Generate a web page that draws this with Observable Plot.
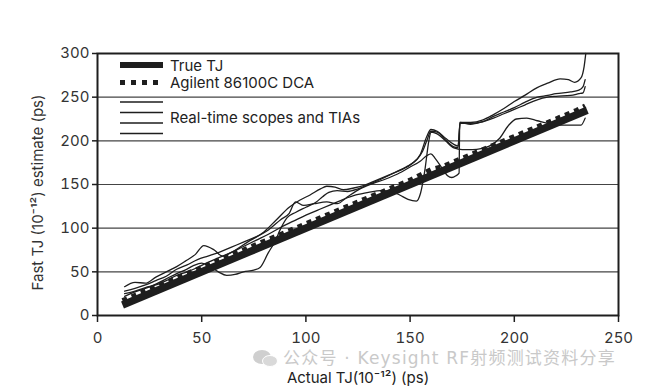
<!DOCTYPE html>
<html>
<head>
<meta charset="utf-8">
<script src="https://cdn.jsdelivr.net/npm/d3@7"></script>
<script src="https://cdn.jsdelivr.net/npm/@observablehq/plot@0.6"></script>
<style>
  html, body { margin: 0; padding: 0; background: #fff; }
  #wrap { position: relative; width: 645px; height: 386px; overflow: hidden; font-family: Inter, "Noto Sans", sans-serif; }
  #legend { position: absolute; left: 0; top: 0; pointer-events: none; }
  #wm { position: absolute; left: 252px; top: 349px; height: 18px; line-height: 18px; color: #c9c9c9; font-family: "DejaVu Sans", "Noto Sans CJK SC", sans-serif; font-size: 17px; letter-spacing: 1.2px; white-space: nowrap; display: flex; align-items: center; gap: 5px; }
</style>
</head>
<body>
<div id="wrap"></div>
<script>
// ---- data ----
const xTicks = [0, 50, 100, 150, 200, 250];
const yTicks = [0, 50, 100, 150, 200, 250, 300];
const gridValues = [50, 100, 150, 200, 250];

const trueTJ = [[12, 12], [235, 235]];

const dca = [[12,17],[20,25],[30,35],[40,45],[50,55],[60,65],[70,75],[80,85],[90,95],[100,105],[110,115],[120,125],[130,135],[140,145],[150,155],[155,161],[160,167],[165,170],[170,175],[175,180],[180,185],[190,195],[200,205],[210,215],[220,225],[230,235],[234,240]];

const scopeA = [[13,33],[18,38],[23,37],[28,44],[33,50],[38,56],[42,62],[47,70],[51,80],[56,75],[60,68],[64,72],[72,84],[80,96],[86,110],[92,124],[97,132],[102,138],[107,145],[110,148],[114,147],[118,144],[123,146],[128,149],[134,155],[140,161],[146,167],[151,174],[155,185],[158,205],[160,213],[163,211],[167,203],[171,196],[173,194],[174,221],[179,221],[185,224],[190,230],[195,237],[200,245],[205,252],[211,261],[216,266],[222,271],[226,270],[229,267],[232,272],[233.5,285],[234.3,300]];

const scopeB = [[13,28],[18,31],[23,35],[28,40],[33,45],[38,53],[43,58],[48,64],[53,68],[58,72],[64,78],[70,84],[76,90],[82,98],[88,110],[92,117],[95,130],[99,126],[104,128],[110,130],[115,128],[120,136],[126,145],[132,151],[138,156],[144,162],[150,170],[155,177],[158,183],[160,185],[162,180],[165,170],[168,160],[170,158],[172,160],[173.5,163],[173.8,221],[179,219],[185,222],[190,226],[195,231],[200,236],[205,241],[211,247],[216,250],[220,251],[227,252],[231,254],[233,255],[234,262]];

const scopeC = [[13,22],[18,27],[23,31],[28,36],[33,42],[38,48],[42,52],[46,57],[50,60],[54,56],[58,50],[62,46],[66,47],[70,50],[75,52],[78,55],[82,72],[85,84],[88,100],[91,112],[95,118],[100,124],[105,130],[108,136],[111,141],[115,143],[120,142],[125,145],[130,150],[136,156],[142,163],[148,170],[153,178],[156,188],[158,200],[160,211],[163,210],[167,201],[171,193],[173,192],[174,220],[179,220],[185,222],[190,228],[195,233],[200,238],[205,244],[211,250],[216,252],[220,254],[227,256],[231,258],[233,262],[234,270]];

const scopeD = [[13,25],[18,28],[23,32],[28,35],[33,40],[38,46],[43,50],[48,55],[53,61],[58,66],[64,72],[70,79],[76,86],[82,93],[88,101],[94,108],[100,115],[106,121],[112,127],[118,133],[124,138],[130,141],[136,143],[141,142],[145,138],[149,133],[153,131],[155,140],[157,165],[159,200],[160,210],[163,208],[167,200],[171,192],[175,190],[180,190],[184,191],[188,194],[193,203],[197,217],[201,225],[206,226],[211,223],[216,220],[221,218],[227,218],[232,218],[234,226]];

const xLabel = "Actual TJ(10⁻¹²) (ps)";
const yLabel = "Fast TJ (10⁻¹²) estimate (ps)";
const legendLabels = ["True TJ", "Agilent 86100C DCA", "Real-time scopes and TIAs"];
const watermark = "公众号 · Keysight RF射频测试资料分享";

// ---- chart ----
const ink = "#1e1e1e";
const scopeLine = (d) => Plot.line(d, {x: d => d[0], y: d => d[1], stroke: ink, strokeWidth: 1.3, curve: "monotone-x"});

const chart = Plot.plot({
  width: 645,
  height: 386,
  marginLeft: 97,
  marginRight: 27,
  marginTop: 53,
  marginBottom: 71,
  style: {fontFamily: "Inter, 'Noto Sans', sans-serif", fontSize: "15px", color: "#333", background: "#fff"},
  x: {domain: [0, 250]},
  y: {domain: [0, 300]},
  marks: [
    Plot.gridY(gridValues, {stroke: "#444", strokeOpacity: 1, strokeWidth: 1.2}),
    scopeLine(scopeA),
    scopeLine(scopeB),
    scopeLine(scopeC),
    scopeLine(scopeD),
    Plot.line(dca, {x: d => d[0], y: d => d[1], stroke: ink, strokeWidth: 5, strokeDasharray: "5,5", strokeLinecap: "butt"}),
    Plot.line(trueTJ, {x: d => d[0], y: d => d[1], stroke: ink, strokeWidth: 7.5, strokeLinecap: "butt"}),
    Plot.frame({stroke: ink, strokeWidth: 2}),
    Plot.axisY(yTicks, {tickSize: 5, tickPadding: 3, label: null, fontSize: 15, stroke: ink, strokeWidth: 1.5}),
    Plot.axisX(xTicks, {tickSize: 7, tickPadding: 10, label: null, fontSize: 15, stroke: ink, strokeWidth: 1.5}),
    Plot.text([yLabel], {text: d => d, frameAnchor: "left", textAnchor: "middle", lineAnchor: "middle", dx: -59, dy: 8, rotate: -90, fontSize: 15, fill: "#333"}),
    Plot.text([xLabel], {text: d => d, frameAnchor: "bottom", textAnchor: "middle", lineAnchor: "middle", dy: 63, fontSize: 15, fill: "#222"})
  ]
});

const wrap = document.getElementById("wrap");
wrap.appendChild(chart);

// legend overlay
const ns = "http://www.w3.org/2000/svg";
const lg = document.createElementNS(ns, "svg");
lg.setAttribute("id", "legend");
lg.setAttribute("width", 645);
lg.setAttribute("height", 386);
const mk = (tag, attrs) => { const e = document.createElementNS(ns, tag); for (const k in attrs) e.setAttribute(k, attrs[k]); lg.appendChild(e); return e; };
mk("line", {x1: 120, x2: 163, y1: 65, y2: 65, stroke: ink, "stroke-width": 6});
mk("line", {x1: 120, x2: 163, y1: 82.5, y2: 82.5, stroke: ink, "stroke-width": 5, "stroke-dasharray": "5,6"});
[102, 112.5, 123, 133.5].forEach(y => mk("line", {x1: 120, x2: 163, y1: y, y2: y, stroke: ink, "stroke-width": 1.4}));
const ty = [65, 82.5, 117.5];
legendLabels.forEach((t, i) => {
  const e = mk("text", {x: 170, y: ty[i], "dominant-baseline": "central", "font-size": 15, fill: "#222", "font-family": "Inter, 'Noto Sans', sans-serif"});
  e.textContent = t;
});
wrap.appendChild(lg);

// watermark
const wm = document.createElement("div");
wm.id = "wm";
wm.innerHTML = '<svg width="26" height="18"><ellipse cx="10" cy="8" rx="9" ry="7" fill="#cfcfcf"/><ellipse cx="18" cy="12" rx="7.5" ry="5.5" fill="#d9d9d9" stroke="#fff" stroke-width="1"/></svg><span></span>';
wm.querySelector("span").textContent = watermark;
wrap.appendChild(wm);
</script>
</body>
</html>
